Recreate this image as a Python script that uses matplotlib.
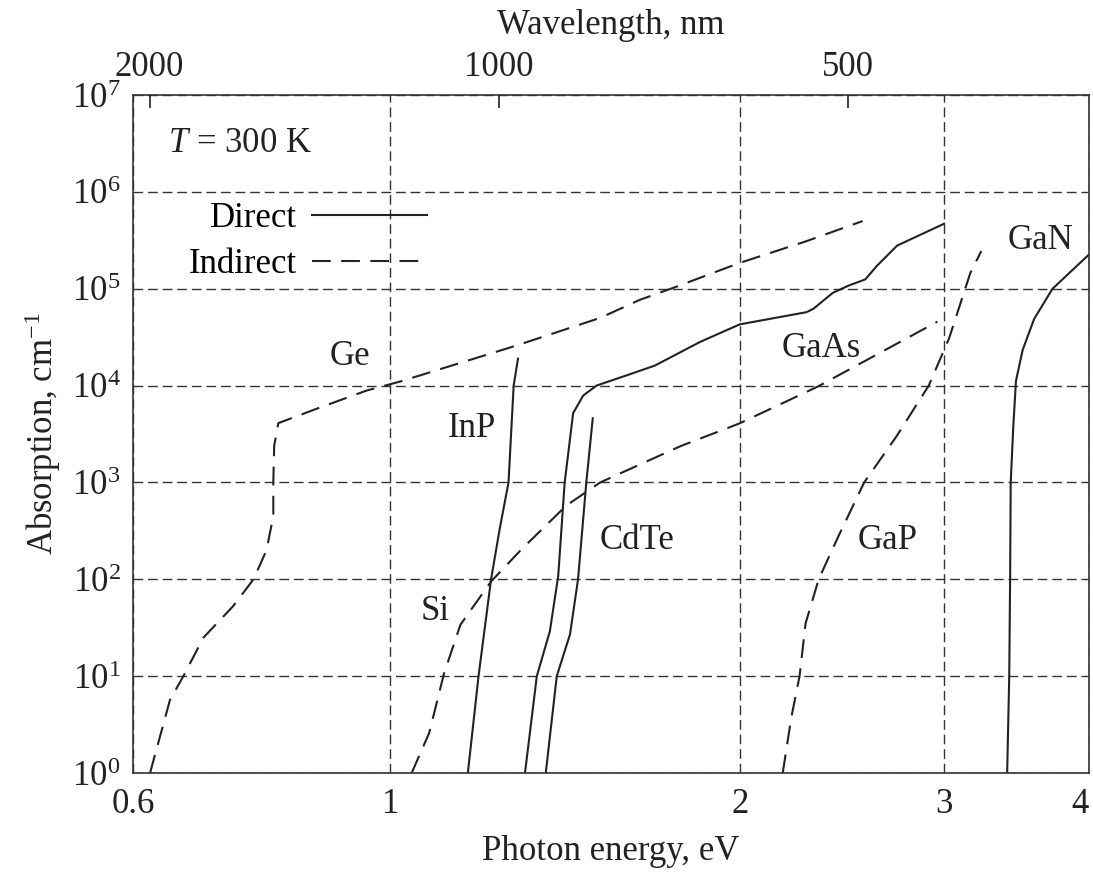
import matplotlib
matplotlib.use("Agg")
import matplotlib.pyplot as plt
from matplotlib.ticker import NullLocator

# Absorption coefficient vs photon energy at 300 K
ge_e = [0.6206, 0.6457, 0.663, 0.690, 0.732, 0.762, 0.782, 0.7926, 0.7926, 0.794, 0.8006,
        0.858, 0.954, 1.019, 1.285, 1.516, 1.641, 1.752, 2.0, 2.283, 2.552]
ge_a = [1, 5.7, 10, 25, 53, 100, 200, 450, 1000, 2400, 4100,
        5600, 8900, 1.1e4, 2.6e4, 5.0e4, 7.7e4, 1.02e5, 1.85e5, 3.1e5, 5.0e5]

si_e = [1.043, 1.08, 1.112, 1.149, 1.221, 1.297, 1.417, 1.516, 1.778, 2.0, 2.334, 2.96]
si_a = [1, 2.6, 10.6, 34, 95, 204, 575, 1000, 2370, 4080, 9750, 4.57e4]

gap_e = [2.178, 2.215, 2.252, 2.279, 2.339, 2.433, 2.56, 2.73, 2.91, 3.03, 3.16, 3.23]
gap_a = [1, 3.7, 10, 35, 100, 280, 1000, 3000, 1.0e4, 3.08e4, 1.45e5, 2.45e5]

inp_e = [1.166, 1.191, 1.221, 1.242, 1.264, 1.277, 1.288]
inp_a = [1, 10, 100, 330, 1000, 1.0e4, 1.9e4]

gaas_e = [1.306, 1.337, 1.372, 1.395, 1.413, 1.437, 1.466, 1.505, 1.608, 1.69, 1.848, 2.0,
          2.283, 2.315, 2.405, 2.483, 2.566, 2.625, 2.733, 3.0]
gaas_a = [1, 10, 29, 108, 1000, 5200, 7900, 1.0e4, 1.31e4, 1.61e4, 2.82e4, 4.29e4,
          5.73e4, 6.22e4, 9.06e4, 1.08e5, 1.25e5, 1.72e5, 2.79e5, 4.69e5]

cdte_e = [1.361, 1.391, 1.428, 1.451, 1.475, 1.494]
cdte_a = [1, 10, 27, 100, 1000, 4600]

gan_e = [3.40, 3.414, 3.42, 3.424, 3.442, 3.46, 3.506, 3.587, 3.72, 4.0]
gan_a = [1, 10, 100, 1000, 3900, 1.12e4, 2.33e4, 4.88e4, 1.0e5, 2.26e5]

# label anchors (energy, absorption)
names = ["Ge", "InP", "Si", "CdTe", "GaAs", "GaP", "GaN"]
name_e = [0.923, 1.176, 1.093, 1.631, 2.35, 2.68, 3.63]
name_a = [2.0e4, 3650, 46, 254, 2.44e4, 254, 3.18e5]

energy_ticks = [0.6, 1, 2, 3, 4]
wavelength_ticks = [2000, 1000, 500]
HC = 1240.0  # eV nm

INK = "#222222"
DASH = (0, (9, 5))
FS = 25

plt.rcParams["font.family"] = ["Liberation Serif", "DejaVu Serif"]
plt.rcParams["mathtext.fontset"] = "custom"
plt.rcParams["mathtext.rm"] = "Liberation Serif"
plt.rcParams["mathtext.it"] = "Liberation Serif:italic"

fig = plt.figure(figsize=(10.93, 8.72), dpi=100)
ax = fig.add_axes([0.1217, 0.1135, 0.8747, 0.7775])

# direct gap materials
ax.plot(inp_e, inp_a, color=INK, lw=1.5, label="Direct")
ax.plot(gaas_e, gaas_a, color=INK, lw=1.5)
ax.plot(cdte_e, cdte_a, color=INK, lw=1.5)
ax.plot(gan_e, gan_a, color=INK, lw=1.5)
# indirect gap materials
ax.plot(ge_e, ge_a, color=INK, lw=1.5, ls=DASH, label="Indirect")
ax.plot(si_e, si_a, color=INK, lw=1.5, ls=DASH)
ax.plot(gap_e, gap_a, color=INK, lw=1.5, ls=DASH)

for n, e, a in zip(names, name_e, name_a):
    ax.text(e, a, n, fontsize=FS, ha="center", va="center", color=INK)
ax.text(0.742, 3.19e6, "$T$ = 300 K", fontsize=FS, ha="center", va="center", color=INK)

ax.set_xscale("log")
ax.set_yscale("log")
ax.set_xlim(0.6, 4)
ax.set_ylim(1, 1e7)
ax.set_xticks(energy_ticks)
ax.set_xticklabels([str(t) for t in energy_ticks])
ax.get_xticklabels()[-1].set_horizontalalignment("right")
ax.xaxis.set_minor_locator(NullLocator())
ax.set_yticks([10.0 ** k for k in range(8)])
ax.yaxis.set_minor_locator(NullLocator())
ax.tick_params(axis="both", length=0, labelsize=FS, colors=INK)
ax.tick_params(axis="x", pad=11)
ax.tick_params(axis="y", pad=9)
ax.grid(True, which="major", color="#333333", lw=1.0, ls=(0, (7, 3.5)))
for s in ax.spines.values():
    s.set_linewidth(1.2)
    s.set_color("#333333")

ax.set_xlabel("Photon energy, eV", fontsize=FS, color=INK, labelpad=10)
ax.set_ylabel("Absorption, cm$^{-1}$", fontsize=FS, color=INK, labelpad=6)

# wavelength scale on top
top = ax.twiny()
top.set_xscale("log")
top.set_xlim(ax.get_xlim())
top.set_xticks([HC / w for w in wavelength_ticks])
top.set_xticklabels([str(w) for w in wavelength_ticks])
top.xaxis.set_minor_locator(NullLocator())
top.tick_params(axis="x", direction="in", length=9, width=1.2, labelsize=FS, pad=8, colors=INK)
top.set_xlabel("Wavelength, nm", fontsize=FS, color=INK, labelpad=12)
for s in top.spines.values():
    s.set_visible(False)

ax.legend(loc="upper right", bbox_to_anchor=(0.3075, 0.842), markerfirst=False, frameon=False,
          fontsize=FS, handlelength=3.3, handletextpad=0.45, labelspacing=0.38,
          borderpad=0, borderaxespad=0)

fig.savefig("out.png", dpi=100)
